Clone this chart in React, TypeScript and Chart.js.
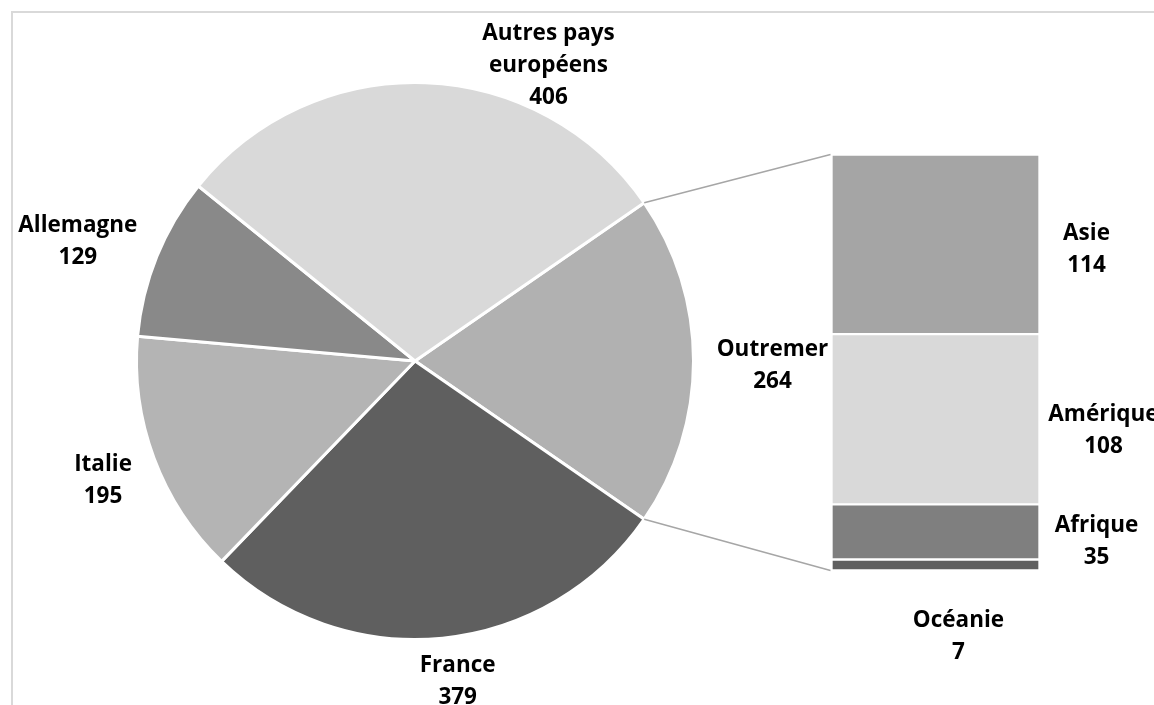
import { useEffect, useRef } from "react";
import { Chart, registerables } from "chart.js";

Chart.register(...registerables);

// Pie (main) data — order starts with the "Outremer" slice that is split into the bar
const pieCategories = ["Outremer", "France", "Italie", "Allemagne", "Autres pays européens"];
const pieValues = [264, 379, 195, 129, 406];
const pieLabelLines = [["Outremer"], ["France"], ["Italie"], ["Allemagne"], ["Autres pays", "européens"]];
const pieColors = ["#b1b1b1", "#5f5f5f", "#b4b4b4", "#898989", "#d9d9d9"];
// label offsets from the outer point at the slice's mid-angle
const pieLabelDx = [79, 15, -51, -79, 123];
const pieLabelDy = [5, 43, 22, -15, -17];

// Bar (secondary) data, bottom to top
const barCategories = ["Océanie", "Afrique", "Amérique", "Asie"];
const barValues = [7, 35, 108, 114];
const barColors = ["#5f5f5f", "#7f7f7f", "#d9d9d9", "#a5a5a5"];
// label offsets from the bar's right edge at segment mid-height
const barLabelDx = [-81, 57, 64, 47];
const barLabelDy = [72, 10, 11, 5];

const FONT = "bold 22.5px 'Open Sans'";
const LINE_H = 32;

function drawBlock(ctx: CanvasRenderingContext2D, lines: string[], x: number, y: number) {
  ctx.save();
  ctx.font = FONT;
  ctx.fillStyle = "#000000";
  ctx.textAlign = "center";
  ctx.textBaseline = "middle";
  const n = lines.length;
  lines.forEach((t, i) => {
    ctx.fillText(t, x, y + (i - (n - 1) / 2) * LINE_H);
  });
  ctx.restore();
}

export default function App() {
  const pieRef = useRef<HTMLCanvasElement>(null);
  const barRef = useRef<HTMLCanvasElement>(null);

  useEffect(() => {
    const pieTotal = pieValues.reduce((a, b) => a + b, 0);
    const barTotal = barValues.reduce((a, b) => a + b, 0);
    const rotation = 90 - (pieValues[0] / pieTotal) * 360 / 2;

    const pieLabelPlugin = {
      id: "pieLabels",
      afterDraw(chart: any) {
        const ctx = chart.ctx;
        const arcs = chart.getDatasetMeta(0).data;
        arcs.forEach((arc: any, i: number) => {
          const p = arc.getProps(["x", "y", "startAngle", "endAngle", "outerRadius"], true);
          const mid = (p.startAngle + p.endAngle) / 2;
          const ax = p.x + p.outerRadius * Math.cos(mid) + pieLabelDx[i];
          const ay = p.y + p.outerRadius * Math.sin(mid) + pieLabelDy[i];
          drawBlock(ctx, [...pieLabelLines[i], String(pieValues[i])], ax, ay);
        });
      },
    };

    const pie = new Chart(pieRef.current as HTMLCanvasElement, {
      type: "pie",
      data: {
        labels: pieCategories,
        datasets: [
          {
            data: pieValues,
            backgroundColor: pieColors,
            borderColor: "#ffffff",
            borderWidth: 3,
          },
        ],
      },
      options: {
        responsive: false,
        animation: false,
        rotation,
        layout: { padding: { left: 135, top: 81, right: 459, bottom: 64 } },
        plugins: { legend: { display: false }, tooltip: { enabled: false } },
      },
      plugins: [pieLabelPlugin],
    });

    const barPlugin = {
      id: "barExtras",
      afterDraw(chart: any) {
        const ctx = chart.ctx;
        const metas = barValues.map((_, i) => chart.getDatasetMeta(i).data[0]);
        const first = metas[0].getProps(["x", "y", "base", "width"], true);
        const left = first.x - first.width / 2;
        const yTop = chart.scales.y.getPixelForValue(barTotal);
        const yBot = chart.scales.y.getPixelForValue(0);
        // connector lines from the Outremer slice edges to the bar
        const arc = pie.getDatasetMeta(0).data[0] as any;
        const ap = arc.getProps(["x", "y", "startAngle", "endAngle", "outerRadius"], true);
        const r = ap.outerRadius;
        ctx.save();
        ctx.strokeStyle = "#a6a6a6";
        ctx.lineWidth = 1.5;
        ctx.beginPath();
        ctx.moveTo(ap.x + r * Math.cos(ap.startAngle), ap.y + r * Math.sin(ap.startAngle));
        ctx.lineTo(left - 1, yTop);
        ctx.moveTo(ap.x + r * Math.cos(ap.endAngle), ap.y + r * Math.sin(ap.endAngle));
        ctx.lineTo(left - 1, yBot);
        ctx.stroke();
        ctx.restore();
        metas.forEach((el: any, i: number) => {
          const p = el.getProps(["x", "y", "base", "width"], true);
          const right = p.x + p.width / 2;
          const midY = (p.y + p.base) / 2;
          drawBlock(ctx, [barCategories[i], String(barValues[i])], right + barLabelDx[i], midY + barLabelDy[i]);
        });
      },
    };

    const bar = new Chart(barRef.current as HTMLCanvasElement, {
      type: "bar",
      data: {
        labels: ["Outremer"],
        datasets: barCategories.map((c, i) => ({
          label: c,
          data: [barValues[i]],
          backgroundColor: barColors[i],
          borderColor: "#ffffff",
          borderWidth: 1.5,
          borderSkipped: false as any,
          barPercentage: 1,
          categoryPercentage: 1,
        })),
      },
      options: {
        responsive: false,
        animation: false,
        layout: { padding: { left: 831.5, right: 114.5, top: 154.5, bottom: 134.5 } },
        scales: {
          x: { display: false, stacked: true },
          y: { display: false, stacked: true, min: 0, max: barTotal },
        },
        plugins: { legend: { display: false }, tooltip: { enabled: false } },
      },
      plugins: [barPlugin],
    });

    return () => {
      bar.destroy();
      pie.destroy();
    };
  }, []);

  return (
    <div
      style={{
        position: "fixed",
        left: 0,
        top: 0,
        width: 1154,
        height: 705,
        overflow: "hidden",
        background: "#ffffff",
      }}
    >
      <div
        style={{
          position: "absolute",
          left: 11,
          top: 11,
          width: 1200,
          height: 800,
          border: "2px solid #d9d9d9",
          boxSizing: "border-box",
        }}
      />
      <canvas
        ref={pieRef}
        width={1154}
        height={705}
        style={{ position: "absolute", left: 0, top: 0, width: 1154, height: 705 }}
      />
      <canvas
        ref={barRef}
        width={1154}
        height={705}
        style={{ position: "absolute", left: 0, top: 0, width: 1154, height: 705 }}
      />
    </div>
  );
}
